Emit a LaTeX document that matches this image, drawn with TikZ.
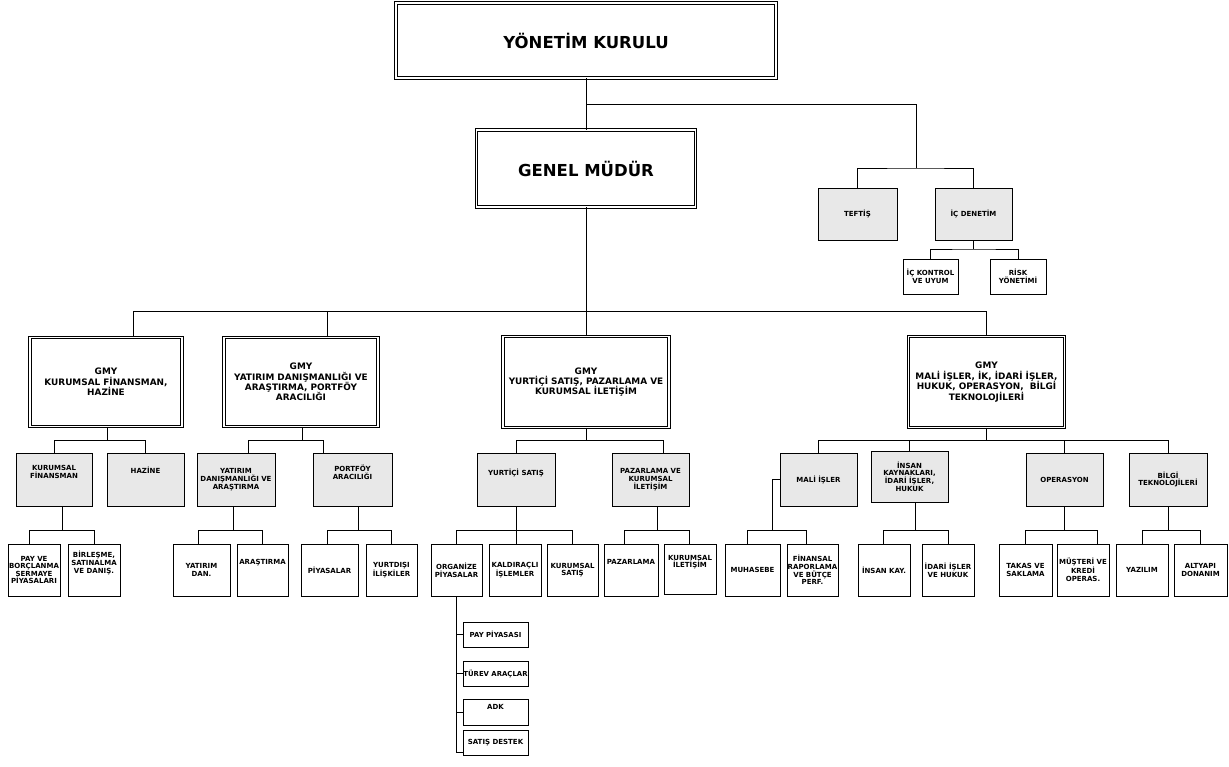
\documentclass[tikz,border=0pt]{standalone}
\usepackage{fontspec}
\setmainfont{DejaVu Sans}
\usetikzlibrary{positioning}

\tikzset{
  topbox/.style={draw, double, line width=0.9pt, double distance=1.6pt, inner sep=0pt,
    align=center, font=\bfseries\fontsize{16.5}{18}\selectfont},
  gmybox/.style={draw, double, line width=0.9pt, double distance=1.6pt, inner sep=0pt,
    minimum width=154pt, minimum height=89pt, align=center,
    font=\bfseries\fontsize{8.9}{10.4}\selectfont},
  graybox/.style={draw, line width=1pt, fill=gray!18, inner sep=0pt,
    minimum width=77pt, minimum height=53pt, align=center,
    font=\bfseries\fontsize{7}{7.8}\selectfont},
  unitbox/.style={draw, line width=1pt, fill=white, inner sep=0pt,
    minimum width=52pt, minimum height=52pt, align=center,
    font=\bfseries\fontsize{7}{7.6}\selectfont},
  link/.style={line width=1pt}
}

\begin{document}
\begin{tikzpicture}[x=1pt, y=-1pt]
    \useasboundingbox[fill=white] (0,0) rectangle (1229,766);

    % Top management
    \node[topbox, minimum width=380pt, minimum height=75pt] (yk) at (586,40.5) {YÖNETİM KURULU};
    \node[topbox, minimum width=219pt, minimum height=77pt] (gm) at (586,168.5) {GENEL MÜDÜR};

    % Audit units
    \node[graybox, minimum width=79pt, minimum height=52pt] (teftis) at (857.5,214) {TEFTİŞ};
    \node[graybox, minimum height=52pt] (icd) at (973.5,214) {İÇ DENETİM};
    \node[unitbox, minimum width=55pt, minimum height=35pt] (ick) at (930.5,276.5) {İÇ KONTROL\\VE UYUM};
    \node[unitbox, minimum width=56pt, minimum height=35pt] (risk) at (1018,276.5) {RİSK\\YÖNETİMİ};

    % Deputy general managers
    \node[gmybox, minimum width=152pt] (gmyA) at (106,382) {GMY\\KURUMSAL FİNANSMAN,\\HAZİNE};
    \node[gmybox] (gmyB) at (301,382) {GMY\\YATIRIM DANIŞMANLIĞI VE\\ARAŞTIRMA, PORTFÖY\\ARACILIĞI};
    \node[gmybox, minimum width=166pt, minimum height=91pt] (gmyC) at (586,382) {GMY\\YURTİÇİ SATIŞ, PAZARLAMA VE\\KURUMSAL İLETİŞİM};
    \node[gmybox, minimum width=156pt, minimum height=91pt] (gmyD) at (986.5,382) {GMY\\MALİ İŞLER, İK, İDARİ İŞLER,\\HUKUK, OPERASYON,~ BİLGİ\\TEKNOLOJİLERİ};

    % Departments
    \node[graybox, minimum width=76pt] (kf) at (54,479.5) {KURUMSAL\\FİNANSMAN\\[7pt]};
    \node[graybox] (haz) at (145.5,479.5) {HAZİNE\\[10pt]};
    \node[graybox, minimum width=78pt] (yda) at (236,479.5) {YATIRIM\\DANIŞMANLIĞI VE\\ARAŞTIRMA};
    \node[graybox, minimum width=79pt] (port) at (352.5,479.5) {PORTFÖY\\ARACILIĞI\\[6pt]};
    \node[graybox, minimum width=78pt] (ys) at (516,479.5) {YURTİÇİ SATIŞ\\[6pt]};
    \node[graybox] (pz) at (650.5,479.5) {PAZARLAMA VE\\KURUMSAL\\İLETİŞİM};
    \node[graybox] (mali) at (818.5,479.5) {MALİ İŞLER};
    \node[graybox, minimum height=51pt] (insan) at (909.5,476.5) {İNSAN\\KAYNAKLARI,\\İDARİ İŞLER,\\HUKUK};
    \node[graybox] (oper) at (1064.5,479.5) {OPERASYON};
    \node[graybox, minimum width=78pt] (bilgi) at (1168,479.5) {BİLGİ\\TEKNOLOJİLERİ};

    % Units
    \node[unitbox] (payb) at (34,570) {PAY VE\\BORÇLANMA\\SERMAYE\\PİYASALARI};
    \node[unitbox] (bir) at (94,570) {BİRLEŞME,\\SATINALMA\\VE DANIŞ.\\[8pt]};
    \node[unitbox, minimum width=57pt] (ydan) at (201.5,570) {YATIRIM\\DAN.};
    \node[unitbox, minimum width=51pt] (ara) at (262.5,570) {ARAŞTIRMA\\[8pt]};
    \node[unitbox, minimum width=57pt] (piy) at (329.5,570) {PİYASALAR};
    \node[unitbox, minimum width=51pt] (yurt) at (391.5,570) {YURTDIŞI\\İLİŞKİLER};
    \node[unitbox, minimum width=51pt] (org) at (456.5,570) {ORGANİZE\\PİYASALAR};
    \node[unitbox] (kald) at (515,570) {KALDIRAÇLI\\İŞLEMLER};
    \node[unitbox, minimum width=51pt] (ksat) at (572.5,570) {KURUMSAL\\SATIŞ};
    \node[unitbox, minimum width=54pt] (pzl) at (631,570) {PAZARLAMA\\[8pt]};
    \node[unitbox, minimum height=50pt] (kil) at (690,569) {KURUMSAL\\İLETİŞİM\\[8pt]};
    \node[unitbox, minimum width=55pt] (muh) at (752.5,570) {MUHASEBE};
    \node[unitbox, minimum width=51pt] (fin) at (812.5,570) {FİNANSAL\\RAPORLAMA\\VE BÜTÇE\\PERF.};
    \node[unitbox] (ikay) at (884,570) {İNSAN KAY.};
    \node[unitbox] (idari) at (948,570) {İDARİ İŞLER\\VE HUKUK};
    \node[unitbox, minimum width=53pt] (takas) at (1025.5,570) {TAKAS VE\\SAKLAMA};
    \node[unitbox] (must) at (1083,570) {MÜŞTERİ VE\\KREDİ\\OPERAS.};
    \node[unitbox] (yaz) at (1142,570) {YAZILIM};
    \node[unitbox, minimum width=53pt] (alt) at (1200.5,570) {ALTYAPI\\DONANIM};

    % Organize markets
    \node[unitbox, minimum width=65pt, minimum height=25pt, font=\bfseries\fontsize{6.9}{7.6}\selectfont] (payp) at (495.5,634.5) {PAY PİYASASI};
    \node[unitbox, minimum width=65pt, minimum height=25pt, font=\bfseries\fontsize{6.9}{7.6}\selectfont] (turev) at (495.5,673.5) {TÜREV ARAÇLAR};
    \node[unitbox, minimum width=65pt, minimum height=26pt, text depth=10pt] (adk) at (495.5,712) {ADK};
    \node[unitbox, minimum width=65pt, minimum height=25pt] (satd) at (495.5,742.5) {SATIŞ DESTEK};

    % Connectors: top
    \coordinate (ctop) at (916,168);
    \draw[link] (yk.south) -- (gm.north);
    \draw[link] (yk.south |- 0,104) -| (ctop);
    \draw[link] (teftis.north) |- (ctop) -| (icd.north);
    \draw[link] (icd.south) -- (icd.south |- 0,249);
    \draw[link] (ick.north) |- (icd.south |- 0,249) -| (risk.north);

    % Connectors: general manager to deputies
    \draw[link] (gm.south) -- (gm.south |- 0,311);
    \draw[link] ([xshift=27pt]gmyA.north) |- (gmyD.north |- 0,311) -- (gmyD.north);
    \draw[link] ([xshift=26pt]gmyB.north) -- ([xshift=26pt]gmyB.north |- 0,311);
    \draw[link] (gmyC.north) -- (gmyC.north |- 0,311);

    % Connectors: deputies to departments
    \draw[link] ([xshift=1pt]gmyA.south) -- ([xshift=1pt]gmyA.south |- 0,440);
    \draw[link] (kf.north) |- (haz.north |- 0,440) -- (haz.north);
    \draw[link] ([xshift=1pt]gmyB.south) -- ([xshift=1pt]gmyB.south |- 0,440);
    \draw[link] ([xshift=12pt]yda.north) |- ([xshift=-29.5pt]port.north |- 0,440) -- ([xshift=-29.5pt]port.north);
    \draw[link] (gmyC.south) -- (gmyC.south |- 0,440);
    \draw[link] (ys.north) |- ([xshift=12.5pt]pz.north |- 0,440) -- ([xshift=12.5pt]pz.north);
    \draw[link] (gmyD.south) -- (gmyD.south |- 0,440);
    \draw[link] (mali.north) |- (bilgi.north |- 0,440) -- (bilgi.north);
    \draw[link] (insan.north) -- (insan.north |- 0,440);
    \draw[link] (oper.north) -- (oper.north |- 0,440);

    % Connectors: departments to units
    \draw[link] ([xshift=8pt]kf.south) -- ([xshift=8pt]kf.south |- 0,530);
    \draw[link] ([xshift=-5pt]payb.north) |- (bir.north |- 0,530) -- (bir.north);
    \draw[link] ([xshift=-3pt]yda.south) -- ([xshift=-3pt]yda.south |- 0,530);
    \draw[link] ([xshift=-3.5pt]ydan.north) |- (ara.north |- 0,530) -- (ara.north);
    \draw[link] ([xshift=5.5pt]port.south) -- ([xshift=5.5pt]port.south |- 0,530);
    \draw[link] ([xshift=-2.5pt]piy.north) |- (yurt.north |- 0,530) -- (yurt.north);
    \draw[link] (ys.south) -- (ys.south |- kald.north);
    \draw[link] (org.north) |- (ksat.north |- 0,530) -- (ksat.north);
    \draw[link] ([xshift=6.5pt]pz.south) -- ([xshift=6.5pt]pz.south |- 0,530);
    \draw[link] ([xshift=-7pt]pzl.north) |- ([xshift=-1pt]kil.north |- 0,530) -- ([xshift=-1pt]kil.north);
    \coordinate (mbus) at (772,530);
    \draw[link] (mali.west) -| (mbus);
    \draw[link] ([xshift=-5.5pt]muh.north) |- ([xshift=-6.5pt]fin.north |- mbus) -- ([xshift=-6.5pt]fin.north);
    \draw[link] ([xshift=5.5pt]insan.south) -- ([xshift=5.5pt]insan.south |- 0,530);
    \draw[link] ([xshift=-1pt]ikay.north) |- (idari.north |- 0,530) -- (idari.north);
    \draw[link] (oper.south) -- (oper.south |- 0,530);
    \draw[link] (takas.north) |- ([xshift=14pt]must.north |- 0,530) -- ([xshift=14pt]must.north);
    \draw[link] (bilgi.south) -- (bilgi.south |- 0,530);
    \draw[link] (yaz.north) |- (alt.north |- 0,530) -- (alt.north);

    % Connectors: organize markets
    \draw[link] (org.south) |- (payp.west);
    \draw[link] (org.south) |- (turev.west);
    \draw[link] (org.south) |- (adk.west);
    \draw[link] (org.south) |- ([yshift=-9.5pt]satd.west);
\end{tikzpicture}
\end{document}
